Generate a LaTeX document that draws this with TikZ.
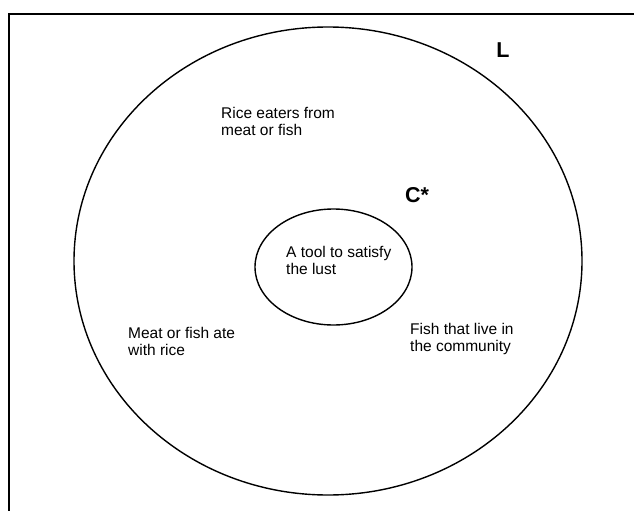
\documentclass[tikz,border=0pt]{standalone}
\usepackage{fontspec}
\setmainfont{Liberation Sans}
\usetikzlibrary{shapes.geometric}
\begin{document}
\begin{tikzpicture}[x=1pt,y=-1pt, every node/.style={font=\fontsize{15.5}{17}\selectfont},
  myset/.style={draw,ellipse,line width=1.4pt,inner sep=0pt},
  mytext/.style={anchor=west,align=left,inner sep=0pt},
  mytag/.style={inner sep=0pt,font=\fontsize{21.5}{24}\selectfont\bfseries}]
\useasboundingbox (0,0) rectangle (634,511);
% frame
\coordinate (ftr) at (634,14); \coordinate (ftl) at (9,14); \coordinate (fbl) at (9,511);
\draw[line width=1.9pt] (ftr)--(ftl)--(fbl);
% sets
\node[myset,minimum width=508pt,minimum height=468pt] (lset) at (328,261) {};
\node[myset,minimum width=157pt,minimum height=116pt] (cset) at (333.5,267) {};
\node[mytag] (ltag) at (503,50) {L};
\node[mytag] (ctag) at (417,195) {C*};
% labels
\node[mytext] (rice) at (221,121) {Rice eaters from\\meat or fish};
\node[mytext] (tool) at (286,260) {A tool to satisfy\\the lust};
\node[mytext] (meat) at (128,341) {Meat or fish ate\\with rice};
\node[mytext] (fish) at (410,339) {Fish that live in\\the community};
\end{tikzpicture}
\end{document}
